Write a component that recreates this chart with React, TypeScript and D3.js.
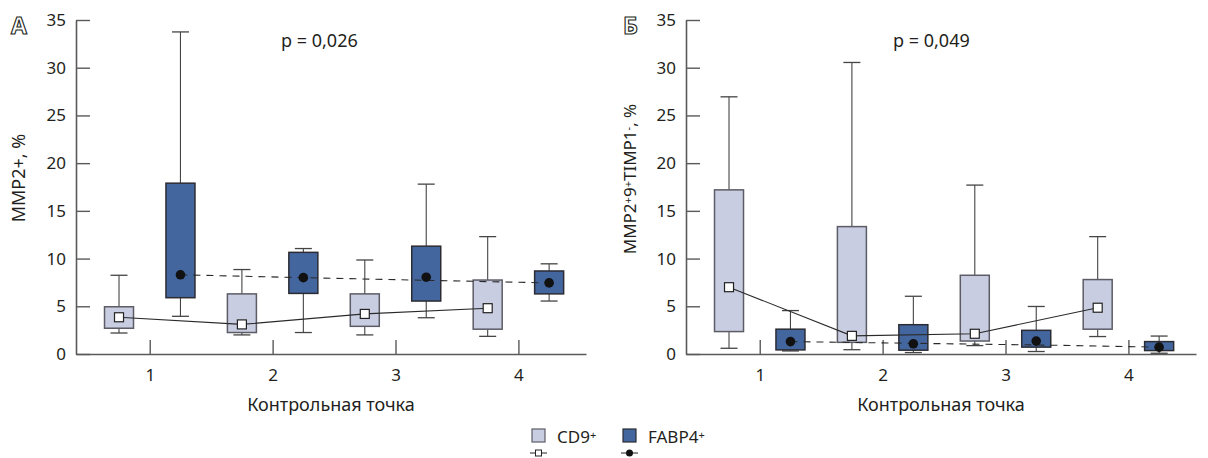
import React, { useRef, useEffect } from 'react';
import * as d3 from 'd3';

// control points on x axis
const categories = [1, 2, 3, 4];
const yTicks = [0, 5, 10, 15, 20, 25, 30, 35];

// Panel A — MMP2+, %
const aCd9Low = [2.2, 2.0, 2.0, 1.85];
const aCd9Q1 = [2.7, 2.25, 2.9, 2.6];
const aCd9Q3 = [4.95, 6.3, 6.3, 7.75];
const aCd9High = [8.25, 8.85, 9.85, 12.3];
const aCd9Med = [3.85, 3.1, 4.2, 4.8];

const aFabpLow = [3.95, 2.25, 3.8, 5.55];
const aFabpQ1 = [5.9, 6.35, 5.55, 6.3];
const aFabpQ3 = [17.9, 10.65, 11.3, 8.7];
const aFabpHigh = [33.75, 11.05, 17.8, 9.45];
const aFabpMed = [8.3, 8.0, 8.05, 7.45];
const aFabpTrend = [8.3, 8.0, 7.72, 7.45];

// Panel Б — MMP2+9+TIMP1-, %
const bCd9Low = [0.6, 0.45, 0.88, 1.83];
const bCd9Q1 = [2.35, 1.22, 1.36, 2.6];
const bCd9Q3 = [17.2, 13.35, 8.25, 7.8];
const bCd9High = [26.95, 30.55, 17.7, 12.3];
const bCd9Med = [7.0, 1.9, 2.12, 4.85];

const bFabpLow = [0.32, 0.15, 0.26, 0.08];
const bFabpQ1 = [0.43, 0.4, 0.72, 0.36];
const bFabpQ3 = [2.6, 3.07, 2.48, 1.3];
const bFabpHigh = [4.55, 6.05, 4.98, 1.88];
const bFabpMed = [1.3, 1.07, 1.35, 0.72];
const bFabpTrend = [1.3, 1.12, 0.95, 0.72];

const LIGHT = '#c9cde1';
const DARK = '#44669f';
const INK = '#231f20';
const AXIS = '#5a5a5a';
const FONT = '"Noto Sans", "Open Sans", sans-serif';

function drawPanel(root, opt) {
  const g = root.append('g').attr('transform', `translate(${opt.dx},0)`);

  const x = d3.scaleLinear().domain([0.4, 4.55]).range([76, 586]);
  const y = d3.scaleLinear().domain([0, 35]).range([354, 20]);
  const off = 0.25;
  const half = 14.5;
  const cap = 8.5;

  // axes
  const yAxis = g.append('g')
    .attr('transform', `translate(${x(0.4)},0)`)
    .call(d3.axisLeft(y).tickValues(yTicks).tickSizeInner(-14).tickSizeOuter(0).tickPadding(10));
  const xAxis = g.append('g')
    .attr('transform', `translate(0,${y(0)})`)
    .call(d3.axisBottom(x).tickValues(categories).tickFormat(d3.format('d')).tickSizeInner(-14).tickSizeOuter(0).tickPadding(15));
  [yAxis, xAxis].forEach(a => {
    a.select('.domain').attr('stroke', AXIS).attr('stroke-width', 1.6);
    a.selectAll('.tick line').attr('stroke', AXIS).attr('stroke-width', 1.4);
    a.selectAll('.tick text').attr('fill', INK).style('font-size', '17px').style('font-family', FONT);
  });

  const drawBoxes = (dir, low, q1, q3, high, fill, stroke) => {
    categories.forEach((c, i) => {
      const cx = x(c + dir * off);
      const bg = g.append('g');
      bg.append('line').attr('x1', cx).attr('x2', cx).attr('y1', y(high[i])).attr('y2', y(q3[i]))
        .attr('stroke', '#444').attr('stroke-width', 1.1);
      bg.append('line').attr('x1', cx).attr('x2', cx).attr('y1', y(q1[i])).attr('y2', y(low[i]))
        .attr('stroke', '#444').attr('stroke-width', 1.1);
      bg.append('line').attr('x1', cx - cap).attr('x2', cx + cap).attr('y1', y(high[i])).attr('y2', y(high[i]))
        .attr('stroke', '#444').attr('stroke-width', 1.3);
      bg.append('line').attr('x1', cx - cap).attr('x2', cx + cap).attr('y1', y(low[i])).attr('y2', y(low[i]))
        .attr('stroke', '#444').attr('stroke-width', 1.3);
      bg.append('rect').attr('x', cx - half).attr('y', y(q3[i])).attr('width', half * 2)
        .attr('height', Math.max(1, y(q1[i]) - y(q3[i])))
        .attr('fill', fill).attr('stroke', stroke).attr('stroke-width', 1.5);
    });
  };

  drawBoxes(-1, opt.cd9Low, opt.cd9Q1, opt.cd9Q3, opt.cd9High, LIGHT, '#5c5c66');
  drawBoxes(1, opt.fabpLow, opt.fabpQ1, opt.fabpQ3, opt.fabpHigh, DARK, '#2b2b33');

  // connecting lines
  const line = d3.line().x(d => x(d[0])).y(d => y(d[1]));
  g.append('path')
    .datum(categories.map((c, i) => [c - off, opt.cd9Med[i]]))
    .attr('d', line).attr('fill', 'none').attr('stroke', '#2a2a2a').attr('stroke-width', 1.1);
  g.append('path')
    .datum(categories.map((c, i) => [c + off, opt.fabpTrend[i]]))
    .attr('d', line).attr('fill', 'none').attr('stroke', '#2a2a2a').attr('stroke-width', 1.1)
    .attr('stroke-dasharray', '7,6');

  // markers
  categories.forEach((c, i) => {
    g.append('rect')
      .attr('x', x(c - off) - 4.5).attr('y', y(opt.cd9Med[i]) - 4.5).attr('width', 9).attr('height', 9)
      .attr('fill', '#fff').attr('stroke', '#222').attr('stroke-width', 1.2);
    g.append('circle')
      .attr('cx', x(c + off)).attr('cy', y(opt.fabpMed[i])).attr('r', 4.8).attr('fill', '#111');
  });

  // panel letter
  g.append('text').attr('x', opt.lx).attr('y', 34).text(opt.letter)
    .attr('fill', '#fff').attr('stroke', INK).attr('stroke-width', 1.1)
    .style('font-size', '23px').style('font-weight', 'bold').style('font-family', FONT);

  // p value
  g.append('text').attr('x', opt.px).attr('y', 47).text(opt.p)
    .attr('fill', INK).style('font-size', '18px').style('font-family', FONT);

  // x title
  g.append('text').attr('x', (x(0.4) + x(4.55)) / 2).attr('y', 411).attr('text-anchor', 'middle')
    .text('Контрольная точка')
    .attr('fill', INK).style('font-size', '18px').style('font-family', FONT);

  // y title
  const yt = g.append('text')
    .attr('transform', `translate(${opt.ytx},${opt.yty}) rotate(-90)`)
    .attr('text-anchor', 'middle')
    .attr('fill', INK).style('font-size', opt.ysize).style('font-family', FONT);
  opt.ylabel.forEach(([t, sup]) => {
    yt.append('tspan').text(t)
      .attr('baseline-shift', sup ? '35%' : null)
      .style('font-size', sup ? '11px' : null);
  });
}

function drawLegend(root) {
  const lg = root.append('g').style('font-family', FONT);
  const items = [
    { x: 532, fill: LIGHT, stroke: '#5c5c66', name: 'CD9', tx: 557, marker: 'square' },
    { x: 623, fill: DARK, stroke: '#2b2b33', name: 'FABP4', tx: 648, marker: 'dot' },
  ];
  items.forEach(it => {
    lg.append('rect').attr('x', it.x).attr('y', 429).attr('width', 13).attr('height', 13)
      .attr('fill', it.fill).attr('stroke', it.stroke).attr('stroke-width', 1.2);
    lg.append('line').attr('x1', it.x - 2).attr('x2', it.x + 15).attr('y1', 453).attr('y2', 453)
      .attr('stroke', '#222').attr('stroke-width', 1);
    if (it.marker === 'square') {
      lg.append('rect').attr('x', it.x + 3.5).attr('y', 450).attr('width', 6).attr('height', 6)
        .attr('fill', '#fff').attr('stroke', '#222').attr('stroke-width', 1);
    } else {
      lg.append('circle').attr('cx', it.x + 6.5).attr('cy', 453).attr('r', 3.5).attr('fill', '#111');
    }
    const t = lg.append('text').attr('x', it.tx).attr('y', 443).attr('fill', INK).style('font-size', '17px');
    t.append('tspan').text(it.name);
    t.append('tspan').text('+').attr('baseline-shift', '35%').style('font-size', '11px');
  });
}

export default function App() {
  const svgRef = useRef(null);

  useEffect(() => {
    const svg = d3.select(svgRef.current);
    svg.selectAll('*').remove();

    svg.append('rect').attr('width', 1208).attr('height', 458).attr('fill', '#fff');

    drawPanel(svg, {
      dx: 0, letter: 'А', lx: 11, p: 'p = 0,026', px: 281, ytx: 25, yty: 178, ysize: '18px',
      ylabel: [['MMP2+, %', false]],
      cd9Low: aCd9Low, cd9Q1: aCd9Q1, cd9Q3: aCd9Q3, cd9High: aCd9High, cd9Med: aCd9Med,
      fabpLow: aFabpLow, fabpQ1: aFabpQ1, fabpQ3: aFabpQ3, fabpHigh: aFabpHigh,
      fabpMed: aFabpMed, fabpTrend: aFabpTrend,
    });
    drawPanel(svg, {
      dx: 610, letter: 'Б', lx: 13, p: 'p = 0,049', px: 283, ytx: 26, yty: 179, ysize: '17px',
      ylabel: [['MMP2', false], ['+', true], ['9', false], ['+', true], ['TIMP1', false], ['-', true], [', %', false]],
      cd9Low: bCd9Low, cd9Q1: bCd9Q1, cd9Q3: bCd9Q3, cd9High: bCd9High, cd9Med: bCd9Med,
      fabpLow: bFabpLow, fabpQ1: bFabpQ1, fabpQ3: bFabpQ3, fabpHigh: bFabpHigh,
      fabpMed: bFabpMed, fabpTrend: bFabpTrend,
    });
    drawLegend(svg);
  }, []);

  return (
    <svg
      ref={svgRef}
      width={1208}
      height={458}
      style={{ position: 'absolute', left: 0, top: 0, display: 'block' }}
    />
  );
}
